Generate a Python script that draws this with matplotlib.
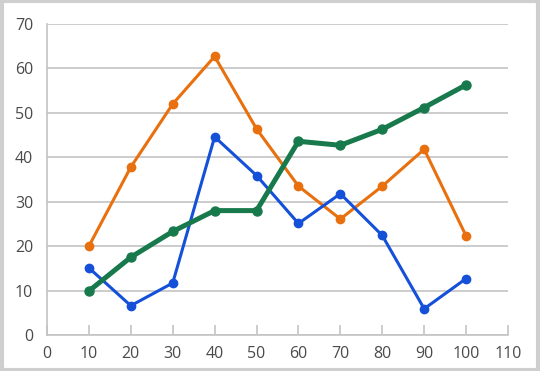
import matplotlib.pyplot as plt
from matplotlib.patches import Rectangle

# data
x_vals = [10, 20, 30, 40, 50, 60, 70, 80, 90, 100]
blue_vals = [15.1, 6.6, 11.7, 44.6, 35.9, 25.1, 31.8, 22.4, 5.9, 12.7]
orange_vals = [20.0, 37.8, 52.0, 62.7, 46.4, 33.5, 26.1, 33.5, 41.8, 22.3]
green_vals = [9.9, 17.5, 23.3, 28.0, 28.0, 43.6, 42.7, 46.3, 51.2, 56.3]
x_ticks = list(range(0, 111, 10))
y_ticks = list(range(0, 71, 10))

plt.rcParams['font.family'] = ['Open Sans', 'DejaVu Sans']

fig = plt.figure(figsize=(5.4, 3.71), dpi=100)
fig.patch.set_facecolor('white')

# light grey frame round the whole picture
fig.patches.append(Rectangle((0.003, 0.004), 0.994, 0.992, transform=fig.transFigure,
                             fill=False, edgecolor='#cfcfcf', linewidth=3))

ax = fig.add_axes([47 / 540, 1 - 335 / 371, 461 / 540, 311 / 371])

ax.plot(x_vals, orange_vals, color='#e8700e', linewidth=2.2, marker='o',
        markersize=6, zorder=3)
ax.plot(x_vals, blue_vals, color='#1550d8', linewidth=2.2, marker='o',
        markersize=6, zorder=4)
ax.plot(x_vals, green_vals, color='#187a4c', linewidth=3.6, marker='o',
        markersize=6.5, zorder=5)

ax.set_xlim(0, 110)
ax.set_ylim(0, 70)
ax.set_xticks(x_ticks)
ax.set_yticks(y_ticks)

ax.grid(axis='y', color='#c4c4c4', linewidth=1.2)
ax.set_axisbelow(True)

for side in ['top', 'right']:
    ax.spines[side].set_visible(False)
for side in ['left', 'bottom']:
    ax.spines[side].set_color('#c4c4c4')
    ax.spines[side].set_linewidth(1.2)

ax.tick_params(axis='x', direction='in', length=7, width=1.2, color='#c4c4c4',
               labelsize=11.5, labelcolor='#4a4a4a', pad=8)
ax.tick_params(axis='y', length=0, labelsize=11.5, labelcolor='#4a4a4a', pad=10)

fig.savefig('out.png', dpi=100)
